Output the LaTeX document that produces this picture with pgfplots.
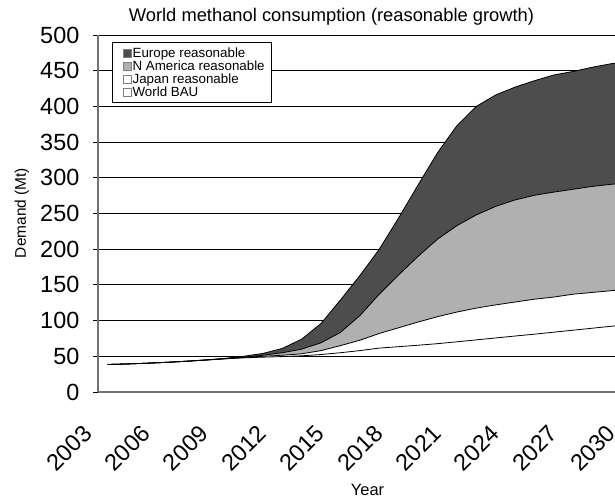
\documentclass[border=0pt]{standalone}
\usepackage{pgfplots}
\pgfplotsset{compat=1.18}
\usepackage{pgfplotstable}
\usepgfplotslibrary{fillbetween}
\usepackage{fontspec}
\setmainfont{Liberation Sans}
\definecolor{eucol}{RGB}{77,77,77}
\definecolor{nacol}{RGB}{176,176,176}

\pgfplotstableread{
year bau jap na eu
2003 38.5 38.5 38.5 38.5
2004 39.3 39.3 39.3 39.3
2005 40.3 40.3 40.3 40.3
2006 41.5 41.5 41.5 41.5
2007 43.0 43.0 43.0 43.0
2008 44.7 44.7 44.7 44.8
2009 46.4 46.5 46.6 47.0
2010 47.8 48.3 48.7 50.0
2011 48.8 50.0 51.5 54.0
2012 49.6 51.5 55.0 61.0
2013 50.7 53.5 60.0 74.0
2014 52.5 58.0 69.0 96.0
2015 55.0 65.0 83.5 129.0
2016 58.0 72.5 107.0 163.0
2017 61.5 82.0 137.0 200.0
2018 63.5 90.0 164.0 244.0
2019 65.5 98.0 190.0 290.0
2020 67.7 105.5 214.0 335.0
2021 70.3 112.0 233.0 373.0
2022 73.0 117.5 248.0 400.0
2023 75.7 122.0 260.0 416.0
2024 78.4 126.0 269.0 427.0
2025 81.0 130.0 275.5 436.0
2026 83.8 133.0 280.0 444.0
2027 86.6 137.0 284.0 449.0
2028 89.4 139.5 288.0 455.0
2029 92.2 142.0 291.0 460.0
2030 95.0 145.0 294.0 464.0
}\data

\begin{document}
\begin{tikzpicture}
\begin{axis}[
  at={(0,0)}, anchor=south west,
  scale only axis, width=543.2bp, height=357bp,
  xmin=2002.5, xmax=2030.5, ymin=0, ymax=500,
  axis x line*=bottom, axis y line*=left,
  axis line style={black!55, line width=1.5bp},
  ytick={0,50,...,500},
  xtick={2003,2006,...,2030},
  ymajorgrids, grid style={black, line width=0.9bp},
  tick align=outside, major tick length=5bp,
  ytick style={black, line width=0.9bp},
  xtick style={draw=none},
  /pgf/number format/assume math mode=true,
  /pgf/number format/1000 sep={},
  tick label style={font=\fontsize{23.5}{27}\selectfont},
  yticklabel style={anchor=east, inner sep=0pt, xshift=-13.5bp},
  xticklabel style={xshift=-20bp, yshift=-32.6bp, rotate=45, anchor=east, inner sep=0pt},
  legend cell align=left,
  legend style={at={(axis description cs:0.0258,0.9804)}, anchor=north west,
    font=\fontsize{13.4}{13}\selectfont, draw=black, line width=1.2bp,
    inner xsep=5bp, inner ysep=3.5bp, row sep=-1.2bp,
    nodes={inner sep=1.5bp}},
]
\addplot[name path=bau, draw=none, forget plot] table[x=year,y=bau]{\data};
\addplot[name path=jap, draw=none, forget plot] table[x=year,y=jap]{\data};
\addplot[name path=na, draw=none, forget plot] table[x=year,y=na]{\data};
\addplot[name path=eu, draw=none, forget plot] table[x=year,y=eu]{\data};
\addplot[fill=white, draw=none, forget plot] fill between[of=jap and bau];
\addplot[fill=nacol, draw=none, forget plot] fill between[of=na and jap];
\addplot[fill=eucol, draw=none, forget plot] fill between[of=eu and na];
\addplot[black, line width=0.8bp, forget plot] table[x=year,y=bau]{\data};
\addplot[black, line width=0.8bp, forget plot] table[x=year,y=jap]{\data};
\addplot[black, line width=0.8bp, forget plot] table[x=year,y=na]{\data};
\addplot[black, line width=0.8bp, forget plot] table[x=year,y=eu]{\data};
\addlegendimage{legend image code/.code={\path (0bp,0bp); \draw[fill=eucol, draw=gray, line width=0.6bp] (5bp,-3.8bp) rectangle (12.6bp,3.8bp);}}
\addlegendentry{Europe reasonable}
\addlegendimage{legend image code/.code={\path (0bp,0bp); \draw[fill=nacol, draw=gray, line width=0.6bp] (5bp,-3.8bp) rectangle (12.6bp,3.8bp);}}
\addlegendentry{N America reasonable}
\addlegendimage{legend image code/.code={\path (0bp,0bp); \draw[fill=white, draw=gray, line width=0.6bp] (5bp,-3.8bp) rectangle (12.6bp,3.8bp);}}
\addlegendentry{Japan reasonable}
\addlegendimage{legend image code/.code={\path (0bp,0bp); \draw[fill=white, draw=gray, line width=0.6bp] (5bp,-3.8bp) rectangle (12.6bp,3.8bp);}}
\addlegendentry{World BAU}
\end{axis}
\node[font=\fontsize{18.4}{22}\selectfont, anchor=base] at (233.5bp,370bp) {World methanol consumption (reasonable growth)};
\node[font=\fontsize{15.5}{18}\selectfont, rotate=90] at (-76bp,179bp) {Demand (Mt)};
\node[font=\fontsize{16.5}{20}\selectfont] at (269.6bp,-98bp) {Year};
\pgfresetboundingbox
\useasboundingbox (-98bp,-106bp) rectangle (517bp,392bp);
\end{tikzpicture}
\end{document}
